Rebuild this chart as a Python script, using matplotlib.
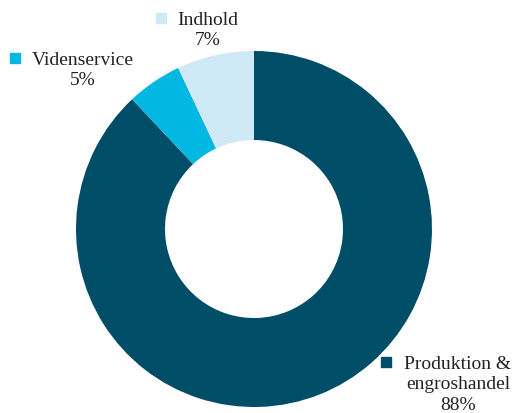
import matplotlib.pyplot as plt
from matplotlib.patches import Rectangle

# data (clockwise from the top)
labels = ['Produktion &\nengroshandel', 'Videnservice', 'Indhold']
shares = [88, 5, 7]
colors = ['#004d67', '#00b8e2', '#cfe9f6']

W, H = 515, 414
fig = plt.figure(figsize=(W / 100, H / 100), dpi=100)

# donut centre ~ (254, 230) px, outer radius ~178 px
r = 178
ax = fig.add_axes([(254 - r) / W, (H - 230 - r) / H, 2 * r / W, 2 * r / H])
ax.pie(shares, colors=colors, startangle=90, counterclock=False,
       radius=1, wedgeprops=dict(width=0.5, linewidth=0))
ax.set_xlim(-1, 1)
ax.set_ylim(-1, 1)
ax.set_aspect('equal')
ax.axis('off')

font = dict(family='Liberation Serif', size=14, color='#222222')

# label positions in pixels: (text centre x, first line y, marker x)
label_pos = [(458, 363, 386), (83, 59, 15), (208, 19, 161)]

for lab, val, col, (tx, ty, mx) in zip(labels, shares, colors, label_pos):
    txt = f'{lab}\n{val}%'
    fig.text(tx / W, 1 - (ty - 7) / H, txt, ha='center', va='top',
             linespacing=1.25, **font)
    fig.patches.append(Rectangle(((mx - 5) / W, 1 - (ty + 5) / H), 10 / W, 10 / H,
                                 transform=fig.transFigure, color=col, figure=fig))

fig.savefig('out.png', dpi=100)
